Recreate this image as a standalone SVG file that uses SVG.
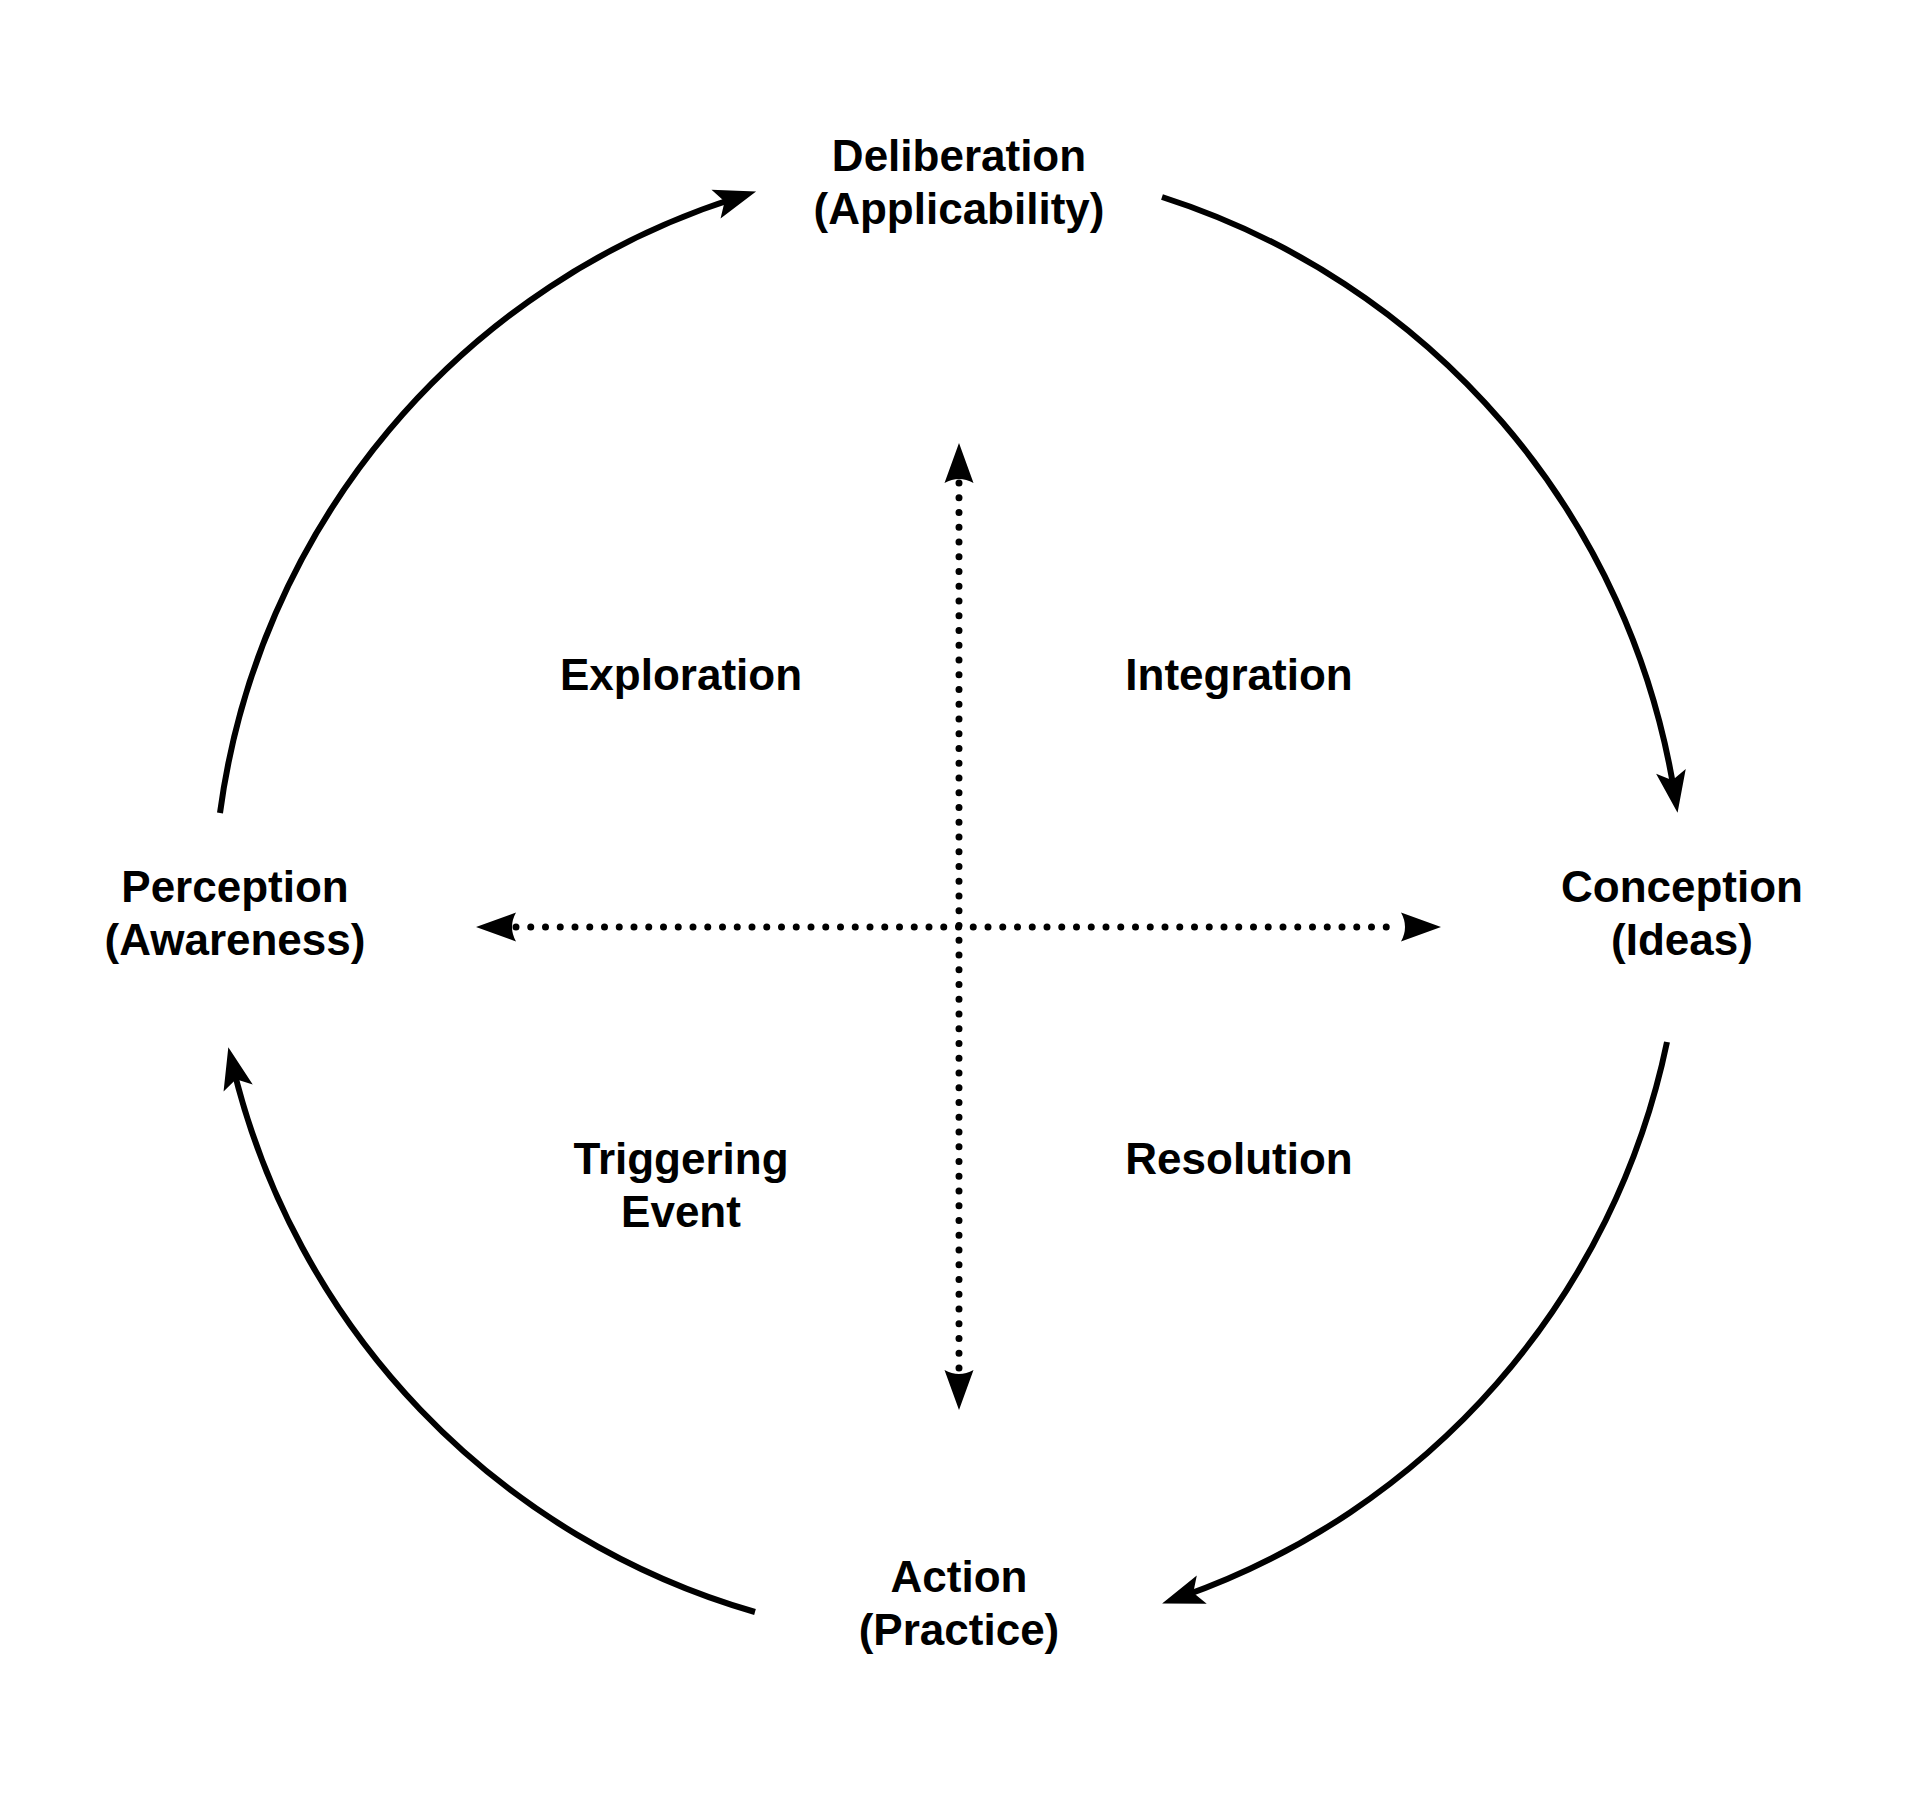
<svg xmlns="http://www.w3.org/2000/svg" width="1918" height="1800" viewBox="0 0 1918 1800">
<style>
.lbl{font-family:"Liberation Sans",Arial,sans-serif;font-weight:bold;font-size:44px;fill:#000;text-anchor:middle}
.arc{fill:none;stroke:#000;stroke-width:6}
.dot{fill:none;stroke:#000;stroke-width:7;stroke-linecap:round;stroke-dasharray:0 14.75}
</style>
<defs>
<marker id="arr" markerUnits="userSpaceOnUse" viewBox="-30 -20 60 40" markerWidth="60" markerHeight="40" refX="0" refY="0" orient="auto">
<path d="M20,0 L-22,-15 L-13,0 L-22,15 Z" fill="#000"/>
</marker>
<marker id="darr" markerUnits="userSpaceOnUse" viewBox="-5 -20 50 40" markerWidth="50" markerHeight="40" refX="0" refY="0" orient="auto-start-reverse">
<path d="M40,0 L0,-14.5 Q8,0 0,14.5 Z" fill="#000"/>
</marker>
</defs>
<rect width="1918" height="1800" fill="#fff"/>
<g id="connectors">
<path class="arc" d="M220,813 A750,750 0 0 1 737,197.5" marker-end="url(#arr)"/>
<path class="arc" d="M1162,197 A750,750 0 0 1 1674.4,793" marker-end="url(#arr)"/>
<path class="arc" d="M1667,1042 A750,750 0 0 1 1181,1597" marker-end="url(#arr)"/>
<path class="arc" d="M755,1612 A750,750 0 0 1 233,1066.6" marker-end="url(#arr)"/>
<path class="dot" d="M516,927 L1401,927" marker-start="url(#darr)" marker-end="url(#darr)"/>
<path class="dot" d="M959,483 L959,1370" marker-start="url(#darr)" marker-end="url(#darr)"/>
</g>
<g id="deliberation"><text class="lbl" x="959" y="171">Deliberation</text><text class="lbl" x="959" y="224">(Applicability)</text></g>
<g id="conception"><text class="lbl" x="1682" y="902">Conception</text><text class="lbl" x="1682" y="955">(Ideas)</text></g>
<g id="action"><text class="lbl" x="959" y="1592">Action</text><text class="lbl" x="959" y="1645">(Practice)</text></g>
<g id="perception"><text class="lbl" x="235" y="902">Perception</text><text class="lbl" x="235" y="955">(Awareness)</text></g>
<g id="exploration"><text class="lbl" x="681" y="690">Exploration</text></g>
<g id="integration"><text class="lbl" x="1239" y="690">Integration</text></g>
<g id="triggering"><text class="lbl" x="681" y="1174">Triggering</text><text class="lbl" x="681" y="1227">Event</text></g>
<g id="resolution"><text class="lbl" x="1239" y="1174">Resolution</text></g>
</svg>
